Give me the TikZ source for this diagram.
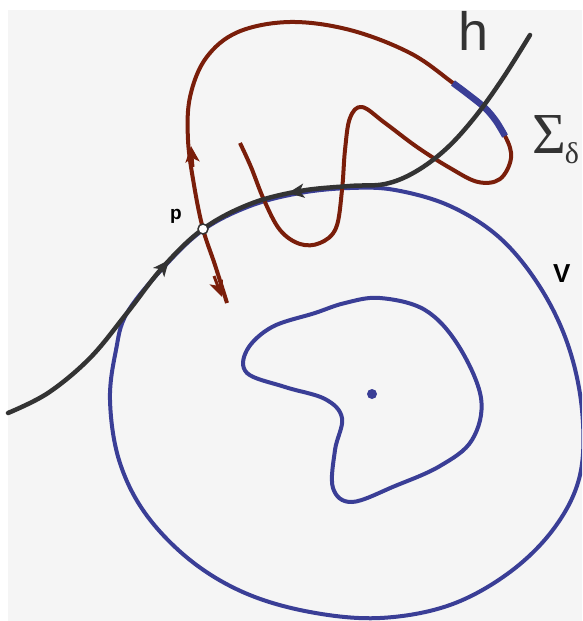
\documentclass[tikz,border=0pt]{standalone}
\usepackage{fontspec}
\setsansfont{Liberation Sans}
\newfontfamily\serifgr{Liberation Serif}
\usetikzlibrary{arrows.meta}
\definecolor{bgc}{RGB}{245,245,245}
\definecolor{hcol}{RGB}{51,51,51}
\definecolor{rcol}{RGB}{122,30,10}
\definecolor{bcol}{RGB}{58,62,150}
\tikzset{
  hline/.style={draw=hcol, line width=4.5pt, line cap=round, line join=round},
  rline/.style={draw=rcol, line width=4pt, line join=round},
  bline/.style={draw=bcol, line width=4pt, line join=round},
  harrow/.style={draw=hcol, line width=3pt, -{Stealth[length=16pt,width=14pt,inset=4pt]}},
  rarrow/.style={draw=rcol, line width=3pt, -{Stealth[length=16pt,width=14pt,inset=4pt]}},
  lbl/.style={inner sep=0pt, text=hcol}
}
\begin{document}
\begin{tikzpicture}[x=1pt,y=-1pt]
\useasboundingbox (0,0) rectangle (582,621);
\fill[white] (0,0) rectangle (582,621);
\clip (0,0) rectangle (582,621);
\fill[bgc] (8,10) rectangle (582,621);
% outer set V
\draw[bline] plot[smooth cycle, tension=0.6] coordinates {(127,313) (163,268) (203,230) (250,206) (300,193) (350,188) (395,190) (450,206) (500,238) (540,287) (568,345) (582,410) (580,475) (555,527) (510,572) (450,605) (380,618) (310,612) (245,593) (190,560) (145,513) (119,460) (110,400) (116,350)};
% inner set
\draw[bline] plot[smooth cycle, tension=0.6] coordinates {(380,298) (425,310) (458,345) (481,398) (472,440) (440,466) (395,486) (352,502) (333,488) (335,450) (342,418) (325,399) (285,387) (247,373) (247,350) (272,327) (315,313) (345,303)};
\node[circle, fill=bcol, inner sep=0pt, minimum size=10pt] (c) at (372,394) {};
% unstable manifold
\draw[rline] plot[smooth, tension=0.6] coordinates {(227,303) (215,265) (203,229) (194,185) (188,140) (190,97) (206,58) (238,32) (290,22) (350,30) (410,53) (453,83) (485,108) (505,136) (511,158) (500,179) (478,182) (450,168) (417,147) (385,123) (362,107) (350,118) (345,150) (342,190) (336,228) (320,243) (300,244) (280,230) (264,200) (251,167) (240,143)};
\draw[draw=bcol, line width=6.5pt] plot[smooth, tension=0.6] coordinates {(453,83) (469,95) (485,108) (496,121) (505,136)};
% stable manifold h
\draw[hline] plot[smooth, tension=0.6] coordinates {(8,413) (48,393) (90,358) (127,313) (163,267) (203,229) (250,204) (300,191) (350,186) (385,184) (415,172) (446,149) (475,117) (503,78) (530,35)};
% arrows
\coordinate (a1s) at (155,277); \coordinate (a1e) at (169,260);
\coordinate (a2s) at (309,190); \coordinate (a2e) at (288,193);
\coordinate (a3s) at (193,167); \coordinate (a3e) at (191,146);
\coordinate (a4s) at (214,276); \coordinate (a4e) at (222,297);
\draw[harrow] (a1s) -- (a1e);
\draw[harrow] (a2s) -- (a2e);
\draw[rarrow] (a3s) -- (a3e);
\draw[rarrow] (a4s) -- (a4e);
% fixed point p
\node[circle, draw=hcol, fill=white, line width=1.5pt, inner sep=0pt, minimum size=10pt] (p) at (203,229) {};
% labels
\node[lbl, anchor=base west, font=\sffamily\bfseries\fontsize{19}{19}\selectfont, text=black] (plbl) at (170,219) {p};
\node[lbl, anchor=base west, font=\sffamily\bfseries\fontsize{26}{26}\selectfont, text=black] (vlbl) at (553,282) {V};
\node[lbl, anchor=base west, font=\sffamily\fontsize{54}{54}\selectfont] (hlbl) at (458,50) {h};
\node[lbl, anchor=base west, font=\serifgr\fontsize{58}{58}\selectfont] (slbl) at (532,153) {Σ\kern-1pt\raisebox{-10pt}{\fontsize{30}{30}\selectfont δ}};
\end{tikzpicture}
\end{document}
